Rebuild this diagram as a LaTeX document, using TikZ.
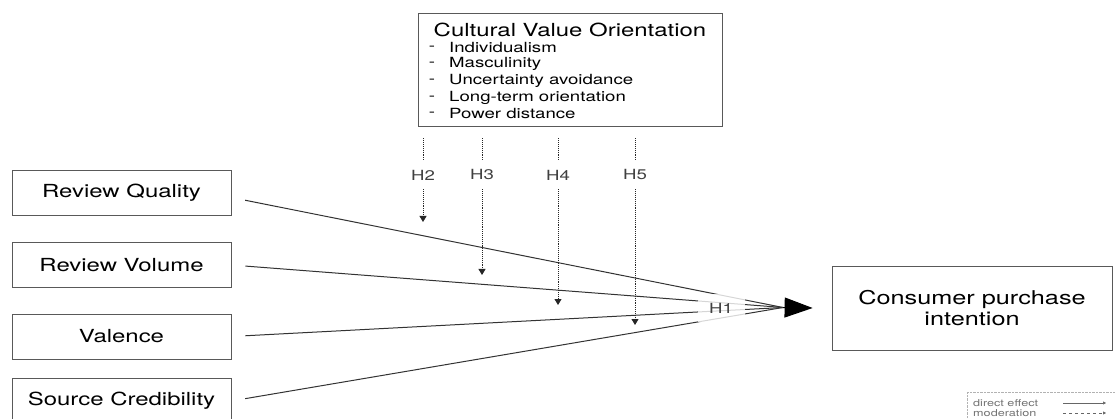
\documentclass[tikz,border=0pt]{standalone}
\usepackage{fontspec}
\setmainfont{TeX Gyre Heros}
\usepackage{graphicx}
\usetikzlibrary{arrows.meta}

% Helvetica in the figure is set wide
\newcommand{\wtext}[1]{\scalebox{1.33}[1]{#1}}

\begin{document}
\begin{tikzpicture}[x=1pt, y=-1pt,
    box/.style={draw=black!65, line width=0.8pt, inner sep=0pt},
    factor/.style={box, minimum width=219pt, minimum height=45pt, font=\fontsize{18}{20}\selectfont},
    item/.style={inner sep=0pt, font=\fontsize{14}{16}\selectfont},
    direct/.style={draw=black!80, line width=1pt},
    moder/.style={draw=black!85, line width=0.9pt, densely dotted},
    hyp/.style={fill=white, inner xsep=1pt, inner ysep=9pt, font=\fontsize{14}{16}\selectfont, text=black!75},
    leg/.style={inner sep=0pt, font=\fontsize{9.5}{10}\selectfont, text=black!55}]

\clip (0,0) rectangle (1115,419);

% Antecedents
\node[factor] (rq)  at (121.5,192.5) {\wtext{Review Quality}};
\node[factor] (rv)  at (121.5,265)   {\wtext{Review Volume}};
\node[factor] (val) at (121.5,336.5) {\wtext{Valence}};
\node[factor] (sc)  at (121.5,401)   {\wtext{Source Credibility}};

% Outcome
\node[box, minimum width=280pt, minimum height=84pt, align=center,
      font=\fontsize{19}{21}\selectfont] (cpi) at (972,308)
      {\wtext{Consumer purchase}\\\wtext{intention}};

% Direct effects (H1)
\coordinate (hub) at (783,307.5);
\foreach \f/\dy in {rq/-5, rv/0, val/0, sc/0}
    \draw[direct, shorten <=14pt] ([yshift=\dy pt]\f.east) -- (hub);
\draw[direct, draw=black, -{Triangle[length=28pt,width=20pt]}] (hub) -- ([xshift=-19pt]cpi.west);
\node[fill=white, fill opacity=0.8, text opacity=1, minimum width=47pt, minimum height=28pt,
      font=\fontsize{14}{16}\selectfont, text=black!75] (h1) at (721,308) {\wtext{H1}};

% Moderator
\node[box, minimum width=304pt, minimum height=113pt] (cvo) at (570,69.5) {};
\node[font=\fontsize{18}{20}\selectfont] (cvotitle) at (570,30) {\wtext{Cultural Value Orientation}};
\foreach \y/\txt [count=\n] in {48/Individualism, 64/Masculinity, 81/Uncertainty avoidance,
                                98/Long-term orientation, 114/Power distance} {
    \node[item] (dash\n) at (432,\y) {\wtext{-}};
    \node[item, anchor=west] (dim\n) at (449,\y) {\wtext{\txt}};
}

% Moderation paths (H2--H5)
\foreach \h/\x/\tip in {2/423/222, 3/482/275, 4/558/305, 5/635/325} {
    \node[hyp] (h\h) at (\x,175) {\wtext{H\h}};
    \coordinate (t\h) at (\x,\tip);
    \draw[moder, shorten <=12pt] (cvo.south -| h\h) -- (h\h.north);
    \draw[moder, -{Triangle[length=6pt,width=7pt]}] (h\h.south) -- (t\h);
}

% Legend
\node[draw=black!30, densely dotted, minimum width=160pt, minimum height=40pt,
      anchor=north west, inner sep=0pt] (legend) at (967,392) {};
\node[leg, anchor=west] (legd) at (973,403) {\wtext{direct effect}};
\node[leg, anchor=west] (legm) at (973,413) {\wtext{moderation}};
\coordinate (ld1) at (1063,403);
\coordinate (ld2) at (1106,403);
\coordinate (lm1) at (1063,413);
\coordinate (lm2) at (1106,413);
\draw[black!60, line width=0.5pt, -{Triangle[length=3pt,width=3pt]}] (ld1) -- (ld2);
\draw[black!60, line width=0.5pt, dash pattern=on 3pt off 3pt, -{Triangle[length=3pt,width=3pt]}] (lm1) -- (lm2);
\end{tikzpicture}
\end{document}
